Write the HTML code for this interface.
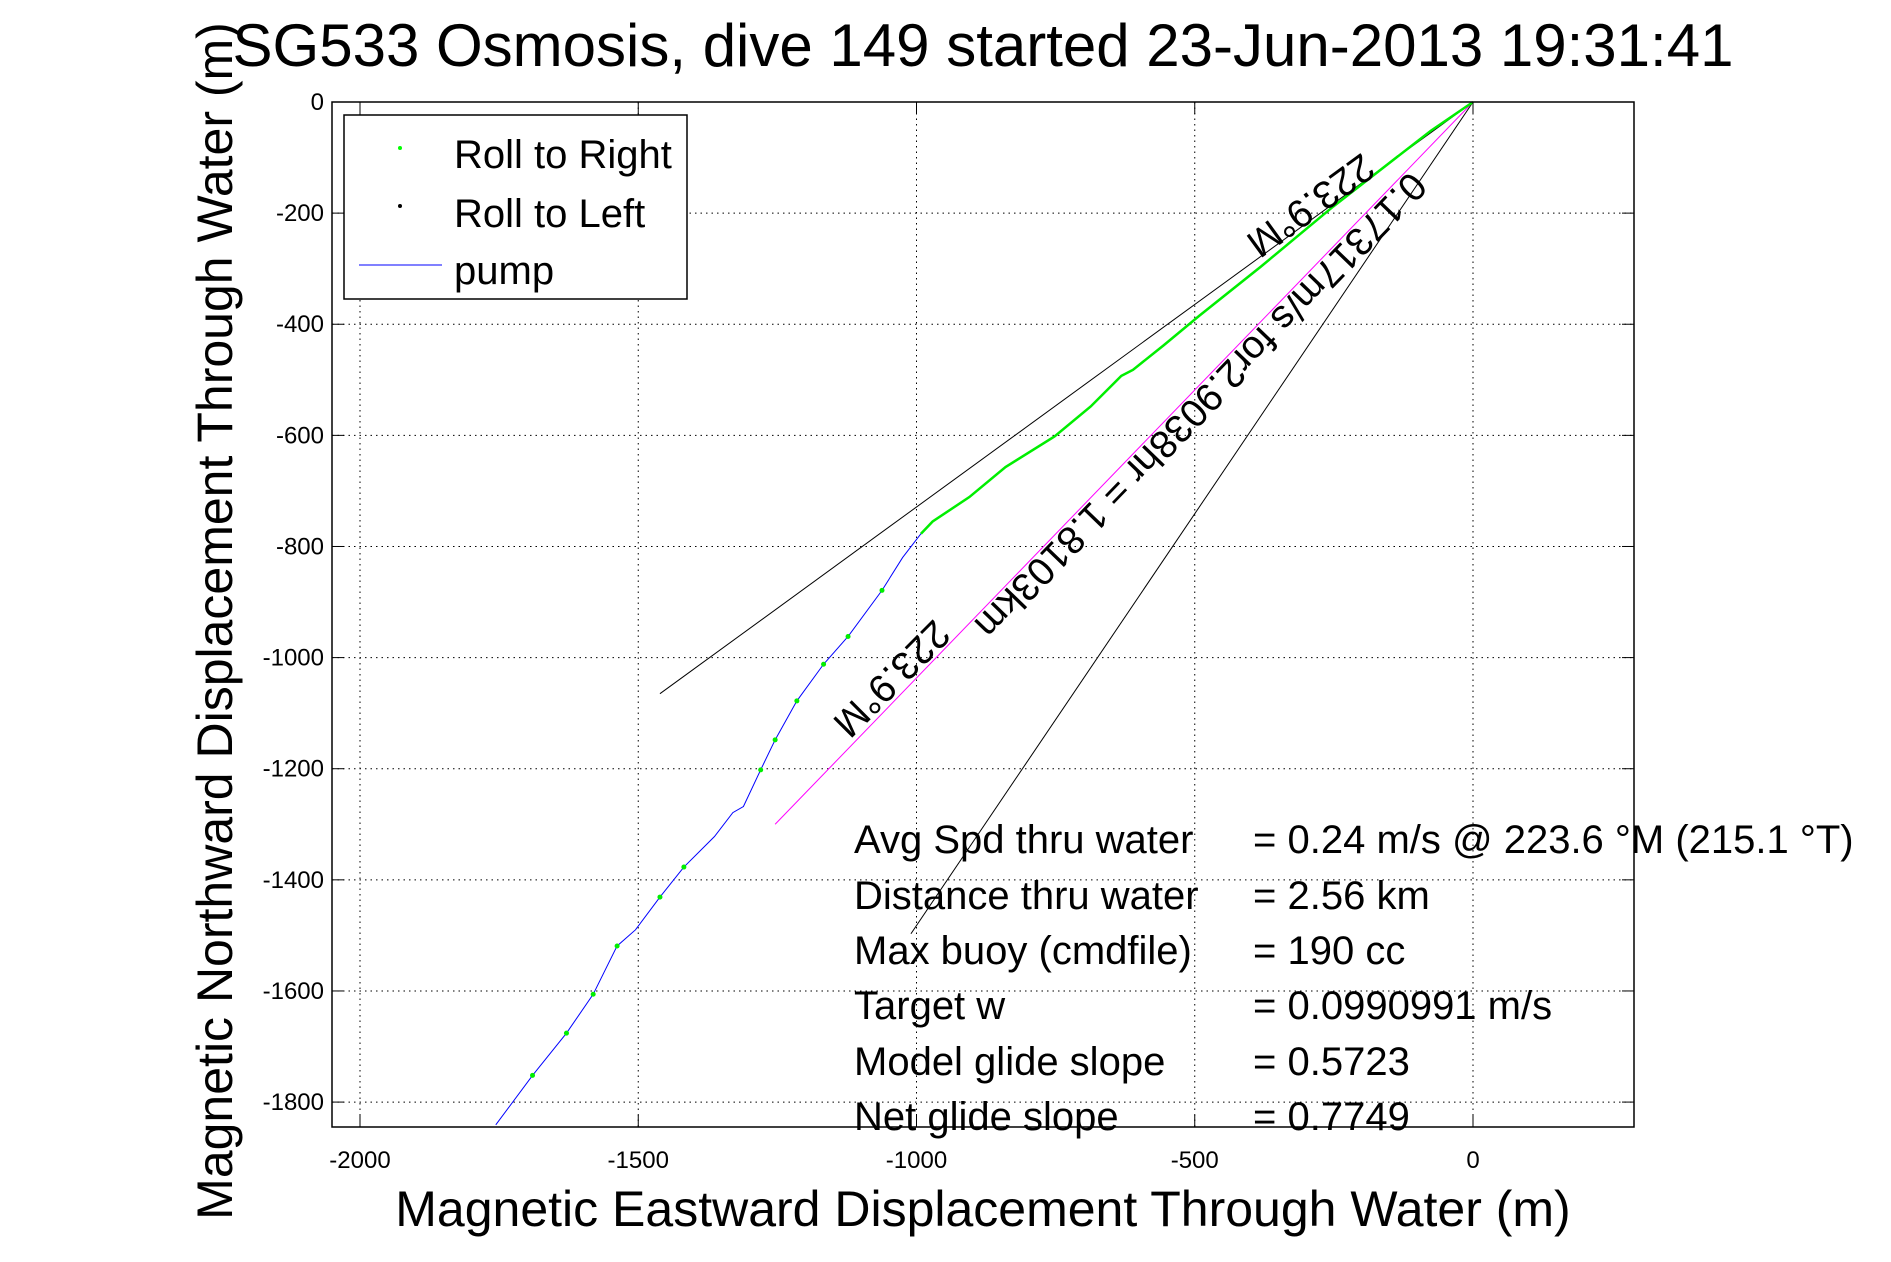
<!DOCTYPE html>
<html><head><meta charset="utf-8"><style>
html,body{margin:0;padding:0;background:#fff;}
svg{display:block;font-family:"Liberation Sans",sans-serif;}
</style></head><body>
<svg id="chart" width="1891" height="1262" viewBox="0 0 1891 1262">
<rect width="1891" height="1262" fill="#fff"/>
<g id="grid"></g>
<g id="marks"></g>
<rect x="332" y="102" width="1302" height="1025" fill="none" stroke="#000" stroke-width="1.5"/>
<g id="ticks"></g>
<text x="983" y="66" font-size="60" text-anchor="middle">SG533 Osmosis, dive 149 started 23-Jun-2013 19:31:41</text>
<text x="983" y="1226" font-size="50" text-anchor="middle">Magnetic Eastward Displacement Through Water (m)</text>
<text transform="translate(232,621) rotate(-90)" font-size="50" text-anchor="middle">Magnetic Northward Displacement Through Water (m)</text>
<g>
<rect x="344" y="115" width="343" height="184" fill="#fff" stroke="#000" stroke-width="1.5"/>
<circle cx="400" cy="148" r="2" fill="#00ff00"/>
<text x="454" y="168" font-size="40">Roll to Right</text>
<circle cx="400" cy="206" r="2" fill="#000"/>
<text x="454" y="227" font-size="40">Roll to Left</text>
<line x1="359" y1="265" x2="442" y2="265" stroke="#0000ff" stroke-width="1"/>
<text x="454" y="284" font-size="40">pump</text>
</g>
<g id="stats" font-size="40" style="white-space:pre"></g>
<g id="ann" font-size="39"></g>
</svg>
<script>
const xTicks=[-2000,-1500,-1000,-500,0];
const yTicks=[0,-200,-400,-600,-800,-1000,-1200,-1400,-1600,-1800];
const trackX=[0,-76,-251,-382,-491,-556,-611,-632,-687,-752,-840,-905,-971,-992,-1025,-1062,-1123,-1167,-1215,-1254,-1280,-1311,-1330,-1363,-1418,-1461,-1505,-1538,-1581,-1629,-1690,-1756];
const trackY=[0,-52,-188,-297,-384,-438,-482,-493,-548,-602,-657,-711,-755,-777,-820,-879,-962,-1012,-1078,-1148,-1202,-1268,-1279,-1322,-1377,-1431,-1490,-1519,-1606,-1676,-1752,-1841];
const greenEnd=13;
const dotX=[-1062,-1123,-1167,-1215,-1254,-1280,-1418,-1461,-1538,-1581,-1629,-1690];
const dotY=[-879,-962,-1012,-1078,-1148,-1202,-1377,-1431,-1519,-1606,-1676,-1752];
const lineEndX=[-1461,-1010];
const lineEndY=[-1065,-1497];
const magX=[0,-1254];
const magY=[0,-1300];
const statLabels=["Avg Spd thru water","Distance thru water","Max buoy (cmdfile)","Target w","Model glide slope","Net glide slope"];
const statValues=["=  0.24 m/s @ 223.6 °M (215.1 °T)","=  2.56 km","= 190 cc","= 0.0990991 m/s","= 0.5723","= 0.7749"];

const NS="http://www.w3.org/2000/svg";
const sx=v=>1473+v*0.5565;
const sy=v=>102-v*0.5556;
function mk(tag,attrs,parent){const e=document.createElementNS(NS,tag);for(const k in attrs)e.setAttribute(k,attrs[k]);parent.appendChild(e);return e;}
const grid=document.getElementById('grid'),ticks=document.getElementById('ticks'),marks=document.getElementById('marks');
xTicks.forEach(v=>{
  const g=mk('line',{x1:sx(v),x2:sx(v),y1:102,y2:1127,stroke:'#000','stroke-width':1,'stroke-dasharray':'1.5 4'},grid);
  
  
  const t1=mk('line',{x1:sx(v),x2:sx(v),y1:1127,y2:1115,stroke:'#000'},ticks);
  
  
  const t2=mk('line',{x1:sx(v),x2:sx(v),y1:102,y2:114,stroke:'#000'},ticks);
  
  
  const l=mk('text',{x:sx(v),y:1168,'font-size':24,'text-anchor':'middle'},ticks);l.textContent=v;
  
  
});
yTicks.forEach(v=>{
  const g=mk('line',{x1:332,x2:1634,y1:sy(v),y2:sy(v),stroke:'#000','stroke-width':1,'stroke-dasharray':'1.5 4'},grid);
  
  
  const t1=mk('line',{x1:332,x2:344,y1:sy(v),y2:sy(v),stroke:'#000'},ticks);
  
  
  const t2=mk('line',{x1:1622,x2:1634,y1:sy(v),y2:sy(v),stroke:'#000'},ticks);
  
  
  const l=mk('text',{x:324,y:sy(v)+8,'font-size':24,'text-anchor':'end'},ticks);l.textContent=v;
  
  
});
lineEndX.forEach((x,i)=>{
  const l=mk('line',{x1:sx(0),y1:sy(0),x2:sx(x),y2:sy(lineEndY[i]),stroke:'#000','stroke-width':1},marks);
  
  
});
const mg=mk('line',{x1:sx(magX[0]),y1:sy(magY[0]),x2:sx(magX[1]),y2:sy(magY[1]),stroke:'#ff00ff','stroke-width':1},marks);


const pts=trackX.map((x,i)=>sx(x)+','+sy(trackY[i]));
const bp=mk('polyline',{points:pts.join(' '),fill:'none',stroke:'#0000ff','stroke-width':1},marks);


const gp=mk('polyline',{points:pts.slice(0,greenEnd+1).join(' '),fill:'none',stroke:'#00ee00','stroke-width':2.5},marks);


dotX.forEach((x,i)=>{
  const c=mk('circle',{cx:sx(x),cy:sy(dotY[i]),r:2.5,fill:'#00ee00'},marks);
  
  
});
const stats=document.getElementById('stats');
const rowY=[853,909,964,1019,1075,1130];
statLabels.forEach((s,i)=>{
  const a=mk('text',{x:854,y:rowY[i]},stats);a.textContent=s;
  
  
  const b=mk('text',{x:1253,y:rowY[i]},stats);b.textContent=statValues[i];
  
  
});
const ann=document.getElementById('ann');
const a1=mk('text',{transform:'translate(1362,152) rotate(144)'},ann);a1.textContent='223.9°M';


const a2=mk('text',{transform:'translate(1410,170) rotate(134)'},ann);a2.textContent='0.17317m/s for2.9038hr = 1.8103km';


const a3=mk('text',{transform:'translate(934,618) rotate(135)'},ann);a3.textContent='223.9°M';


</script>
</body></html>
